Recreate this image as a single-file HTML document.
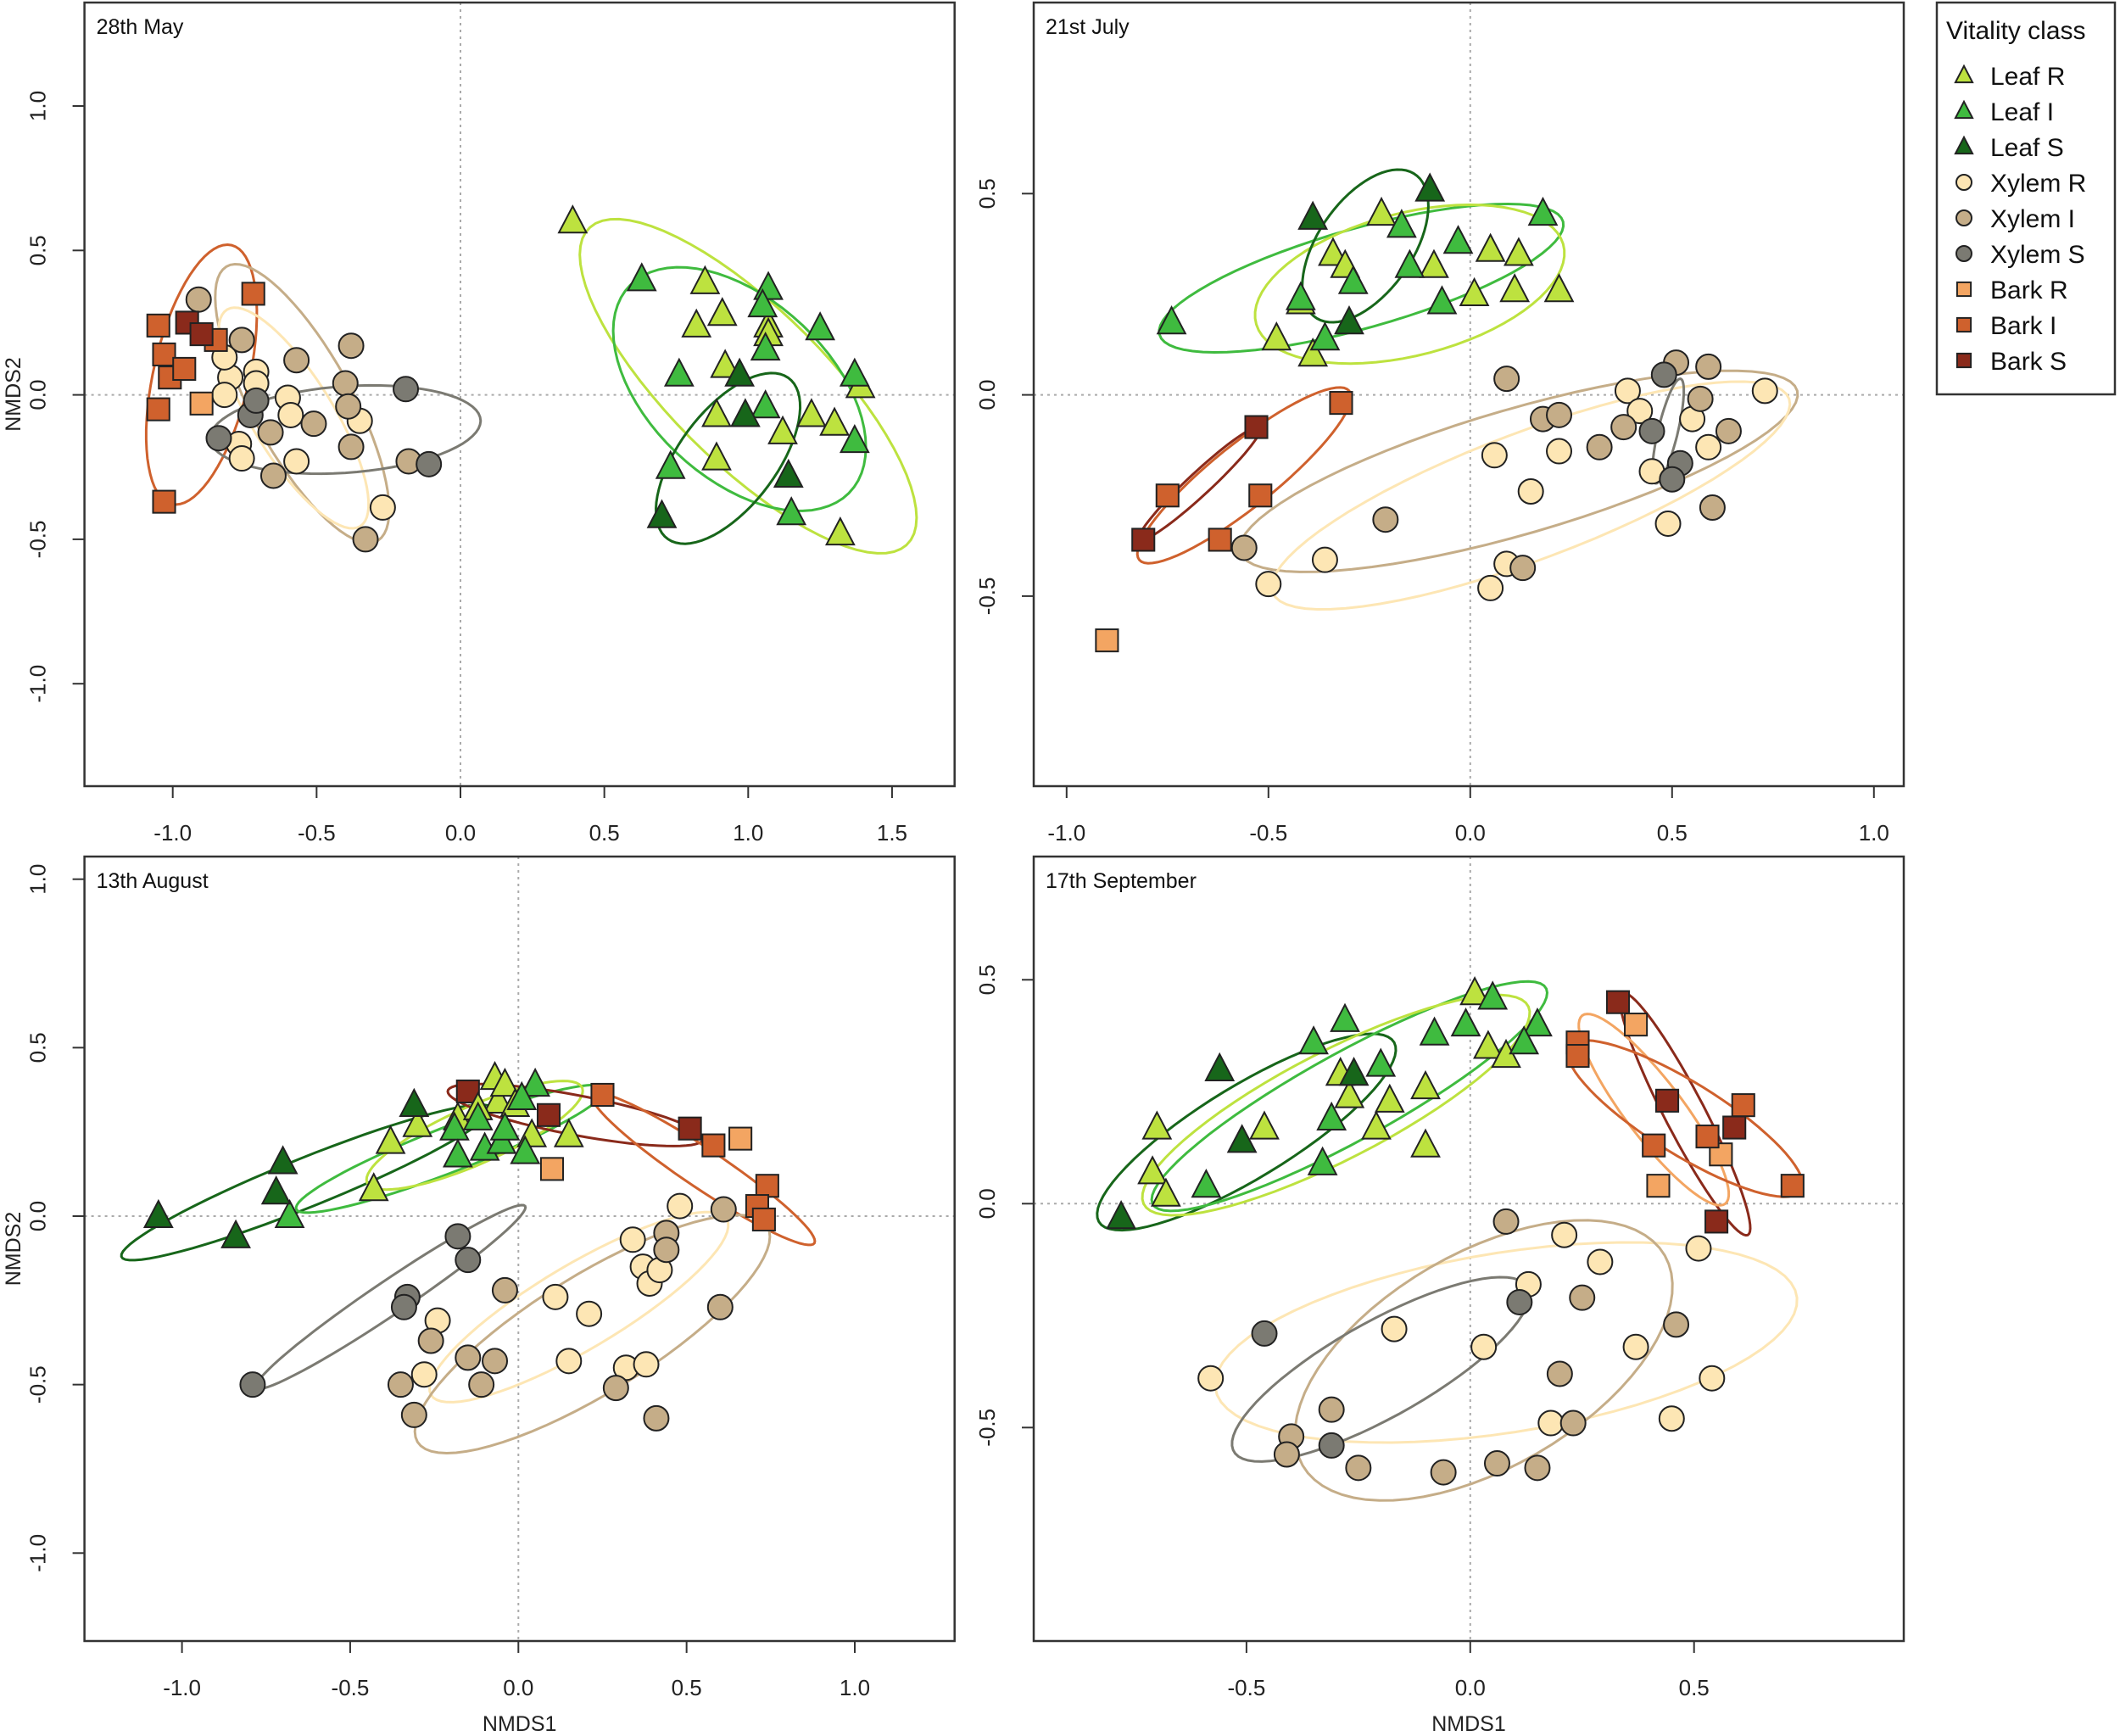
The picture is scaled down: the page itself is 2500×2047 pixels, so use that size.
<!DOCTYPE html>
<html><head><meta charset="utf-8"><style>
html,body{margin:0;padding:0;background:#fff;}
svg{display:block;font-family:"Liberation Sans",Arial,sans-serif;}
</style></head><body>
<svg id="chart" width="2500" height="2047" viewBox="0 0 2500 2047" xmlns="http://www.w3.org/2000/svg"></svg>
<script>
// ---------- DATA ----------
const groups = ["leafR","leafI","leafS","xylemR","xylemI","xylemS","barkR","barkI","barkS"];
const groupLabels = ["Leaf R","Leaf I","Leaf S","Xylem R","Xylem I","Xylem S","Bark R","Bark I","Bark S"];
const groupColors = ["#bde23f","#3fbb3f","#17661a","#fde6b4","#c5ad88","#7b7a72","#f3a562","#cf612d","#8a2a1b"];
const groupShapes = ["tri","tri","tri","circ","circ","circ","sq","sq","sq"];

// Panel 1: 28th May
const may_leafR = [[0.39,0.60],[0.85,0.39],[0.91,0.28],[0.82,0.24],[1.07,0.24],[1.07,0.21],[0.92,0.10],[0.89,-0.07],[0.89,-0.22],[1.12,-0.13],[1.22,-0.07],[1.30,-0.10],[1.39,0.03],[1.32,-0.48]];
const may_leafI = [[0.63,0.40],[1.07,0.37],[1.05,0.31],[1.25,0.23],[1.06,0.16],[0.76,0.07],[1.37,0.07],[1.06,-0.04],[1.37,-0.16],[0.73,-0.25],[1.15,-0.41]];
const may_leafS = [[0.97,0.07],[0.99,-0.07],[1.14,-0.28],[0.70,-0.42]];
const may_xylemR = [[-0.80,0.06],[-0.71,0.08],[-0.82,0.0],[-0.71,0.04],[-0.60,-0.01],[-0.59,-0.07],[-0.35,-0.09],[-0.77,-0.17],[-0.76,-0.22],[-0.57,-0.23],[-0.27,-0.39],[-0.82,0.13]];
const may_xylemI = [[-0.91,0.33],[-0.76,0.19],[-0.57,0.12],[-0.38,0.17],[-0.40,0.04],[-0.51,-0.10],[-0.66,-0.13],[-0.38,-0.18],[-0.65,-0.28],[-0.18,-0.23],[-0.33,-0.50],[-0.39,-0.04]];
const may_xylemS = [[-0.19,0.02],[-0.11,-0.24],[-0.84,-0.15],[-0.73,-0.07],[-0.71,-0.02]];
const may_barkR = [[-0.90,-0.03]];
const may_barkI = [[-1.05,0.24],[-1.03,0.14],[-1.01,0.06],[-0.96,0.09],[-1.05,-0.05],[-1.03,-0.37],[-0.72,0.35],[-0.85,0.19]];
const may_barkS = [[-0.95,0.25],[-0.90,0.21]];
const may_ellipses = [
  ["barkI",-0.90,0.07,0.09,0.45,0.17,0.0],
  ["xylemI",-0.55,-0.03,-0.25,0.48,0.17,0.05],
  ["xylemR",-0.58,-0.08,-0.22,0.38,0.14,0.04],
  ["xylemS",-0.40,-0.12,0.47,0.03,0.0,0.15],
  ["leafR",1.00,0.03,0.55,-0.55,0.20,0.18],
  ["leafI",0.97,0.02,0.38,-0.36,0.22,0.22],
  ["leafS",0.93,-0.22,0.22,0.27,0.12,-0.12]
];

// Panel 2: 21st July
const jul_leafR = [[-0.22,0.45],[-0.34,0.35],[-0.31,0.32],[-0.09,0.32],[0.05,0.36],[0.12,0.35],[0.01,0.25],[0.11,0.26],[0.22,0.26],[-0.42,0.23],[-0.48,0.14],[-0.39,0.10]];
const jul_leafI = [[-0.74,0.18],[-0.17,0.42],[-0.03,0.38],[0.18,0.45],[-0.15,0.32],[-0.29,0.28],[-0.07,0.23],[-0.42,0.24],[-0.36,0.14]];
const jul_leafS = [[-0.39,0.44],[-0.10,0.51],[-0.30,0.18]];
const jul_xylemR = [[0.06,-0.15],[0.15,-0.24],[0.22,-0.14],[0.39,0.01],[0.42,-0.04],[0.55,-0.06],[0.59,-0.13],[0.45,-0.19],[0.49,-0.32],[0.73,0.01],[-0.36,-0.41],[-0.50,-0.47],[0.09,-0.42],[0.05,-0.48]];
const jul_xylemI = [[0.09,0.04],[0.18,-0.06],[0.22,-0.05],[0.32,-0.13],[0.38,-0.08],[0.51,0.08],[0.59,0.07],[0.57,-0.01],[0.64,-0.09],[0.60,-0.28],[-0.21,-0.31],[-0.56,-0.38],[0.13,-0.43]];
const jul_xylemS = [[0.48,0.05],[0.45,-0.09],[0.52,-0.17],[0.50,-0.21]];
const jul_barkR = [[-0.90,-0.61]];
const jul_barkI = [[-0.32,-0.02],[-0.52,-0.25],[-0.75,-0.25],[-0.62,-0.36]];
const jul_barkS = [[-0.53,-0.08],[-0.81,-0.36]];
const jul_ellipses = [
  ["leafI",-0.27,0.29,0.50,0.14,-0.03,0.12],
  ["leafR",-0.15,0.275,0.38,0.10,-0.05,0.17],
  ["leafS",-0.26,0.37,0.12,0.18,0.10,-0.06],
  ["barkI",-0.56,-0.20,0.26,0.21,-0.05,0.06],
  ["barkS",-0.67,-0.22,0.15,0.14,-0.02,0.02],
  ["xylemI",0.12,-0.19,0.69,0.20,-0.04,0.15],
  ["xylemR",0.15,-0.25,0.64,0.24,-0.05,0.15],
  ["xylemS",0.49,-0.09,0.03,0.13,0.025,0.0]
];

// Panel 3: 13th August
const aug_leafR = [[-0.43,0.08],[-0.38,0.22],[-0.30,0.27],[-0.07,0.41],[-0.06,0.34],[-0.04,0.39],[0.15,0.24],[0.04,0.24],[-0.18,0.29],[-0.12,0.32],[-0.01,0.33]];
const aug_leafI = [[-0.68,0.0],[-0.19,0.26],[-0.18,0.18],[-0.12,0.29],[-0.10,0.20],[-0.05,0.22],[0.02,0.19],[0.05,0.39],[0.01,0.35],[-0.04,0.26]];
const aug_leafS = [[-1.07,0.0],[-0.84,-0.06],[-0.70,0.16],[-0.72,0.07],[-0.31,0.33]];
const aug_xylemR = [[0.48,0.03],[0.34,-0.07],[0.37,-0.15],[0.39,-0.20],[0.42,-0.16],[0.11,-0.24],[0.21,-0.29],[-0.24,-0.31],[-0.28,-0.47],[0.15,-0.43],[0.32,-0.45],[0.38,-0.44]];
const aug_xylemI = [[0.61,0.02],[0.44,-0.05],[0.44,-0.10],[-0.04,-0.22],[0.60,-0.27],[-0.26,-0.37],[-0.15,-0.42],[-0.07,-0.43],[-0.11,-0.50],[-0.35,-0.50],[-0.31,-0.59],[0.29,-0.51],[0.41,-0.60]];
const aug_xylemS = [[-0.18,-0.06],[-0.15,-0.13],[-0.33,-0.24],[-0.34,-0.27],[-0.79,-0.50]];
const aug_barkR = [[0.10,0.14],[0.66,0.23]];
const aug_barkI = [[0.25,0.36],[0.58,0.21],[0.74,0.09],[0.71,0.03],[0.73,-0.01]];
const aug_barkS = [[-0.15,0.37],[0.09,0.30],[0.51,0.26]];
const aug_ellipses = [
  ["leafS",-0.63,0.10,0.55,0.22,-0.02,0.07],
  ["leafI",-0.20,0.20,0.46,0.18,-0.03,0.06],
  ["leafR",-0.13,0.24,0.32,0.14,-0.03,0.08],
  ["barkS",0.17,0.30,0.38,-0.07,0.0,0.06],
  ["barkI",0.55,0.14,0.33,-0.22,0.03,0.05],
  ["xylemS",-0.38,-0.24,0.40,0.27,-0.03,0.04],
  ["xylemR",0.18,-0.27,0.44,0.26,-0.06,0.11],
  ["xylemI",0.22,-0.35,0.52,0.32,-0.09,0.15]
];

// Panel 4: 17th September
const sep_leafR = [[0.01,0.47],[-0.70,0.17],[-0.71,0.07],[-0.68,0.02],[-0.46,0.17],[-0.27,0.24],[-0.29,0.29],[-0.21,0.17],[-0.18,0.23],[-0.10,0.26],[-0.10,0.13],[0.04,0.35],[0.08,0.33]];
const sep_leafI = [[-0.28,0.41],[-0.35,0.36],[-0.08,0.38],[-0.01,0.40],[0.05,0.46],[0.15,0.40],[0.12,0.36],[-0.20,0.31],[-0.31,0.19],[-0.33,0.09],[-0.59,0.04]];
const sep_leafS = [[-0.78,-0.03],[-0.56,0.30],[-0.51,0.14],[-0.26,0.29]];
const sep_xylemR = [[0.21,-0.07],[0.29,-0.13],[0.13,-0.18],[0.51,-0.10],[-0.17,-0.28],[0.03,-0.32],[0.37,-0.32],[-0.58,-0.39],[0.54,-0.39],[0.18,-0.49],[0.45,-0.48]];
const sep_xylemI = [[0.08,-0.04],[0.25,-0.21],[0.46,-0.27],[0.20,-0.38],[-0.31,-0.46],[-0.40,-0.52],[-0.41,-0.56],[-0.25,-0.59],[-0.06,-0.60],[0.06,-0.58],[0.15,-0.59],[0.23,-0.49]];
const sep_xylemS = [[-0.46,-0.29],[0.11,-0.22],[-0.31,-0.54]];
const sep_barkR = [[0.37,0.40],[0.56,0.11],[0.42,0.04]];
const sep_barkI = [[0.24,0.36],[0.24,0.33],[0.41,0.13],[0.53,0.15],[0.61,0.22],[0.72,0.04]];
const sep_barkS = [[0.33,0.45],[0.44,0.23],[0.59,0.17],[0.55,-0.04]];
const sep_ellipses = [
  ["leafS",-0.50,0.16,0.33,0.20,0.05,-0.09],
  ["leafI",-0.27,0.24,0.44,0.24,-0.04,0.09],
  ["leafR",-0.30,0.22,0.43,0.22,-0.05,0.11],
  ["barkS",0.48,0.20,0.14,-0.27,0.04,0.02],
  ["barkR",0.41,0.21,0.16,-0.21,0.05,0.04],
  ["barkI",0.48,0.19,0.26,-0.16,0.04,0.07],
  ["xylemR",0.08,-0.31,0.65,0.10,-0.02,0.20],
  ["xylemI",0.03,-0.35,0.36,0.28,-0.22,0.14],
  ["xylemS",-0.20,-0.37,0.33,0.18,-0.04,0.10]
];

const mayXTicks = [-1.0,-0.5,0.0,0.5,1.0,1.5];
const mayYTicks = [-1.0,-0.5,0.0,0.5,1.0];
const julXTicks = [-1.0,-0.5,0.0,0.5,1.0];
const julYTicks = [-0.5,0.0,0.5];
const augXTicks = [-1.0,-0.5,0.0,0.5,1.0];
const augYTicks = [-1.0,-0.5,0.0,0.5,1.0];
const sepXTicks = [-0.5,0.0,0.5];
const sepYTicks = [-0.5,0.0,0.5];

// ---------- RENDER ----------
const NS = "http://www.w3.org/2000/svg";
const svg = document.getElementById("chart");
function mk(tag, attrs, parent){
  const e = document.createElementNS(NS, tag);
  for (const k in attrs) e.setAttribute(k, attrs[k]);
  (parent||svg).appendChild(e);
  return e;
}
const panels = [
  {key:"may", title:"28th May", l:99.6, r:1125.7, t:3, b:927, x0:543, xs:339.3, y0:465.6, ys:340.6, xt:mayXTicks, yt:mayYTicks, ylab:true, xlab:false,
   sets:[may_leafR,may_leafI,may_leafS,may_xylemR,may_xylemI,may_xylemS,may_barkR,may_barkI,may_barkS], ell:may_ellipses},
  {key:"jul", title:"21st July", l:1219, r:2245, t:3, b:927, x0:1733.8, xs:476, y0:465.6, ys:474.6, xt:julXTicks, yt:julYTicks, ylab:false, xlab:false,
   sets:[jul_leafR,jul_leafI,jul_leafS,jul_xylemR,jul_xylemI,jul_xylemS,jul_barkR,jul_barkI,jul_barkS], ell:jul_ellipses},
  {key:"aug", title:"13th August", l:99.6, r:1125.7, t:1010, b:1935, x0:611.3, xs:396.7, y0:1434, ys:397.3, xt:augXTicks, yt:augYTicks, ylab:true, xlab:true,
   sets:[aug_leafR,aug_leafI,aug_leafS,aug_xylemR,aug_xylemI,aug_xylemS,aug_barkR,aug_barkI,aug_barkS], ell:aug_ellipses},
  {key:"sep", title:"17th September", l:1219, r:2245, t:1010, b:1935, x0:1733.8, xs:527.8, y0:1419.3, ys:528, xt:sepXTicks, yt:sepYTicks, ylab:false, xlab:true,
   sets:[sep_leafR,sep_leafI,sep_leafS,sep_xylemR,sep_xylemI,sep_xylemS,sep_barkR,sep_barkI,sep_barkS], ell:sep_ellipses}
];

function marker(parent, shape, cx, cy, color, size){
  let e;
  if (shape==="circ"){
    e = mk("circle",{cx:cx,cy:cy,r:size*0.5,fill:color,stroke:"#222",'stroke-width':2},parent);
  } else if (shape==="sq"){
    const s = size*0.9;
    e = mk("rect",{x:cx-s/2,y:cy-s/2,width:s,height:s,fill:color,stroke:"#222",'stroke-width':2},parent);
  } else {
    const h = size*1.0, w = size*1.12;
    e = mk("polygon",{points:`${cx},${cy-h*0.62} ${cx+w/2},${cy+h*0.45} ${cx-w/2},${cy+h*0.45}`,fill:color,stroke:"#222",'stroke-width':2,'stroke-linejoin':'miter'},parent);
  }
  return e;
}

panels.forEach(p=>{
  const sx = v => p.x0 + v*p.xs;
  const sy = v => p.y0 - v*p.ys;
  const g = mk("g",{});
  
  
  const zx = mk("line",{x1:sx(0),x2:sx(0),y1:p.t,y2:p.b,stroke:"#aaa",'stroke-width':2,'stroke-dasharray':'3,5'},g);
  
  
  const zy = mk("line",{x1:p.l,x2:p.r,y1:sy(0),y2:sy(0),stroke:"#aaa",'stroke-width':2,'stroke-dasharray':'3,5'},g);
  
  
  p.ell.forEach(el=>{
    const gi = groups.indexOf(el[0]);
    let d = "";
    for (let i=0;i<=72;i++){
      const a = i/72*2*Math.PI;
      const x = el[1] + el[3]*Math.cos(a) + el[5]*Math.sin(a);
      const y = el[2] + el[4]*Math.cos(a) + el[6]*Math.sin(a);
      d += (i?"L":"M") + sx(x).toFixed(1) + "," + sy(y).toFixed(1);
    }
    const path = mk("path",{d:d+"Z",fill:"none",stroke:groupColors[gi],'stroke-width':3},g);
    
    
  });
  [3,4,5,6,7,8,0,1,2].forEach(gi=>{
    p.sets[gi].forEach(pt=>{
      const m = marker(g, groupShapes[gi], sx(pt[0]), sy(pt[1]), groupColors[gi], 29);
      
      
    });
  });
  const box = mk("rect",{x:p.l,y:p.t,width:p.r-p.l,height:p.b-p.t,fill:"none",stroke:"#333",'stroke-width':2.5},g);
  
  
  const tt = mk("text",{x:p.l+14,y:p.t+37,'font-size':25,fill:"#111"},g);
  tt.textContent = p.title;
  
  
  p.xt.forEach(v=>{
    mk("line",{x1:sx(v),x2:sx(v),y1:p.b,y2:p.b+14,stroke:"#333",'stroke-width':2},g);
    const t = mk("text",{x:sx(v),y:p.b+64,'text-anchor':'middle','font-size':26,fill:"#222"},g);
    t.textContent = v.toFixed(1);
    
    
  });
  p.yt.forEach(v=>{
    mk("line",{x1:p.l-14,x2:p.l,y1:sy(v),y2:sy(v),stroke:"#333",'stroke-width':2},g);
    const tx = p.l-46, ty = sy(v);
    const t = mk("text",{x:tx,y:ty,'text-anchor':'middle','font-size':26,fill:"#222",transform:`rotate(-90 ${tx} ${ty})`},g);
    t.textContent = v.toFixed(1);
    
    
  });
  if (p.ylab){
    const cy = (p.t+p.b)/2;
    const t = mk("text",{x:24,y:cy,'text-anchor':'middle','font-size':25,fill:"#222",transform:`rotate(-90 24 ${cy})`},g);
    t.textContent = "NMDS2";
    
    
  }
  if (p.xlab){
    const t = mk("text",{x:(p.l+p.r)/2,y:2041,'text-anchor':'middle','font-size':25,fill:"#222"},g);
    t.textContent = "NMDS1";
    
    
  }
});

const lg = mk("g",{});


mk("rect",{x:2284,y:3,width:210,height:462,fill:"#fff",stroke:"#333",'stroke-width':2.5},lg);
const lt = mk("text",{x:2295,y:46,'font-size':30,fill:"#111"},lg);
lt.textContent = "Vitality class";


groups.forEach((gname,i)=>{
  const y = 89 + i*42;
  const m = marker(lg, groupShapes[i], 2316, y, groupColors[i], 18);
  
  
  const t = mk("text",{x:2347,y:y+11,'font-size':30,fill:"#111"},lg);
  t.textContent = groupLabels[i];
  
  
});
</script>
</body></html>
